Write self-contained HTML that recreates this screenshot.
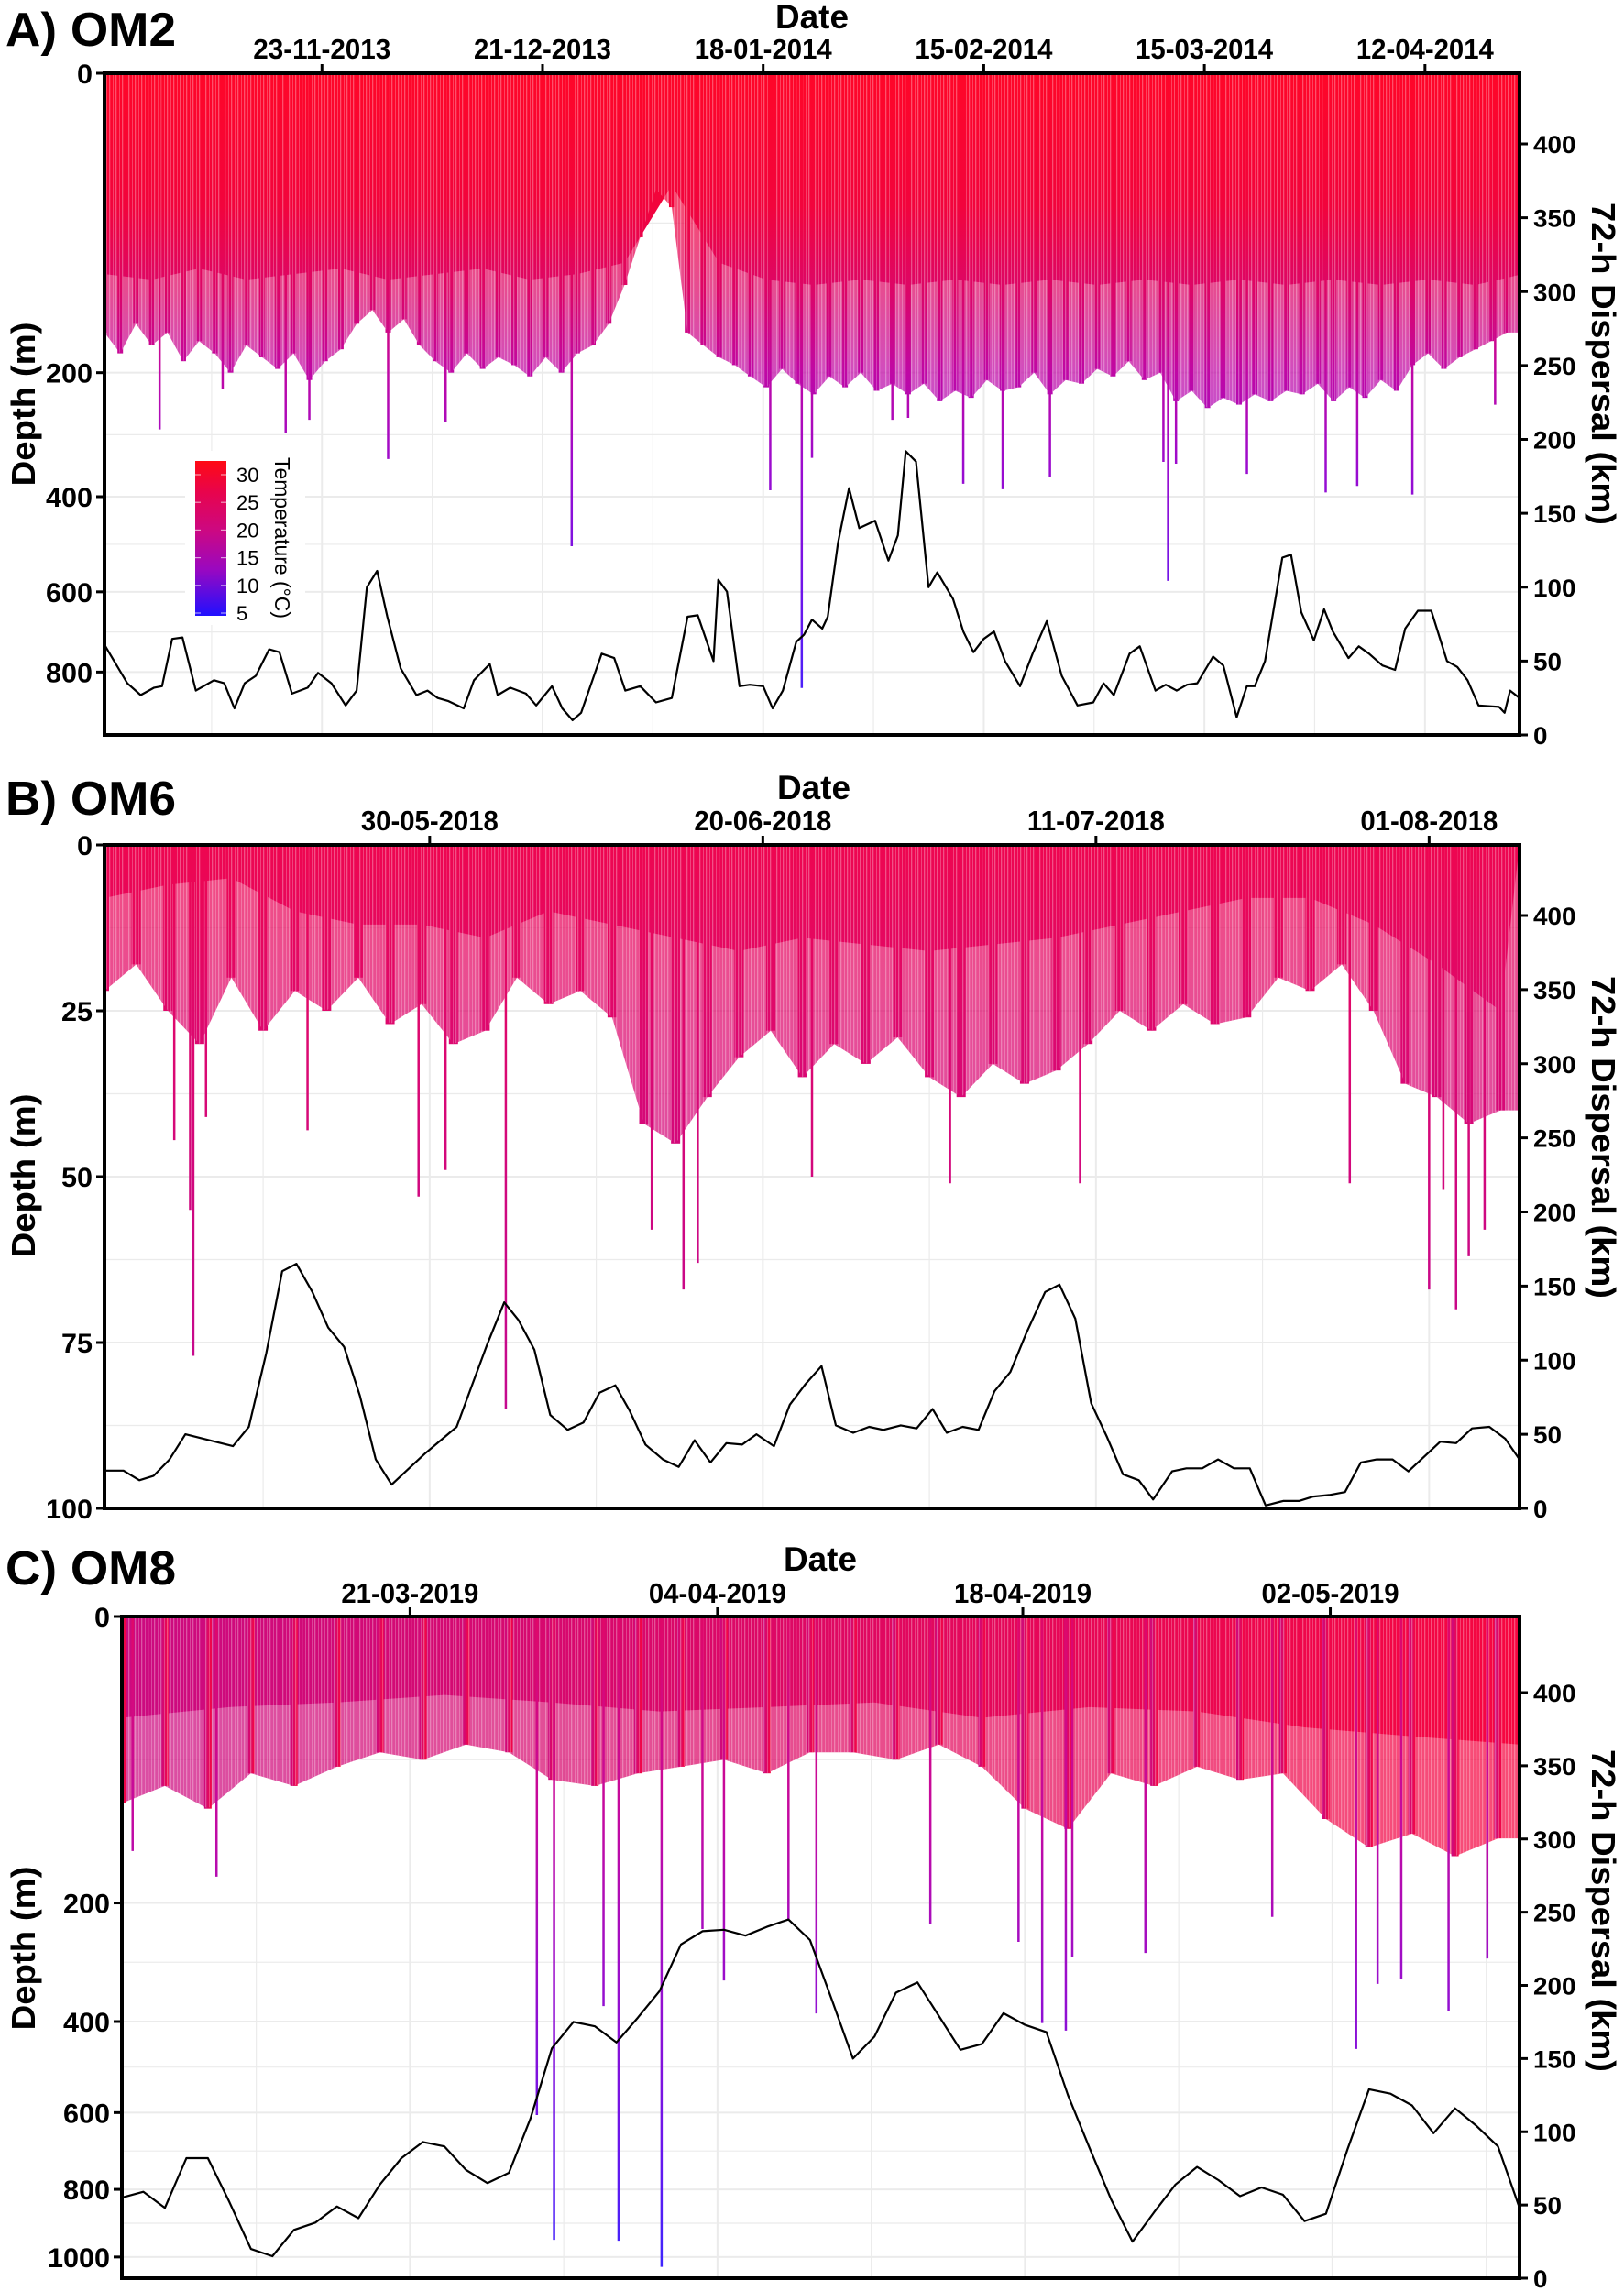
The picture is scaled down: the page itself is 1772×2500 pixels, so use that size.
<!DOCTYPE html>
<html><head><meta charset="utf-8"><title>Dive profiles and dispersal</title>
<style>html,body{margin:0;padding:0;background:#fff}svg{display:block}</style></head>
<body>
<svg id="fig" xmlns="http://www.w3.org/2000/svg" width="1772" height="2500" viewBox="0 0 1772 2500">
<defs>
<linearGradient id="gA" gradientUnits="userSpaceOnUse" x1="0" y1="80" x2="0" y2="802">
<stop offset="0" stop-color="#ff0628"/><stop offset="0.2" stop-color="#f2043c"/><stop offset="0.33" stop-color="#dc0668"/><stop offset="0.45" stop-color="#c008a4"/><stop offset="0.6" stop-color="#9a0cd0"/><stop offset="0.8" stop-color="#6a16ec"/><stop offset="1" stop-color="#3a26ff"/></linearGradient>
<linearGradient id="gB" gradientUnits="userSpaceOnUse" x1="0" y1="922" x2="0" y2="1646">
<stop offset="0" stop-color="#ee0650"/><stop offset="0.3" stop-color="#dc0870"/><stop offset="0.6" stop-color="#cc0884"/><stop offset="1" stop-color="#c00a96"/></linearGradient>
<linearGradient id="gCh" x1="0" y1="0" x2="1" y2="0">
<stop offset="0" stop-color="#cc0a80"/><stop offset="0.45" stop-color="#dc0866"/><stop offset="1" stop-color="#f60640"/></linearGradient>
<linearGradient id="gCv" gradientUnits="userSpaceOnUse" x1="0" y1="1764" x2="0" y2="2486">
<stop offset="0" stop-color="#e00868"/><stop offset="0.3" stop-color="#c40aa0"/><stop offset="0.55" stop-color="#9a0ecc"/><stop offset="0.8" stop-color="#6a16ec"/><stop offset="1" stop-color="#3a26ff"/></linearGradient>
<linearGradient id="gLeg" x1="0" y1="0" x2="0" y2="1">
<stop offset="0" stop-color="#ff0a14"/><stop offset="0.2" stop-color="#e8044c"/><stop offset="0.45" stop-color="#cc0882"/><stop offset="0.7" stop-color="#9a08c0"/><stop offset="1" stop-color="#2010ff"/></linearGradient>
<pattern id="stripes" patternUnits="userSpaceOnUse" width="7" height="40">
<rect x="0" y="0" width="1.3" height="40" fill="#fff"/><rect x="4" y="0" width="0.8" height="40" fill="#fff"/></pattern>
<clipPath id="cA"><rect x="114" y="80" width="1544" height="722"/></clipPath>
<clipPath id="cB"><rect x="114" y="922" width="1544" height="724"/></clipPath>
<clipPath id="cC"><rect x="133" y="1764" width="1525" height="722"/></clipPath>
</defs>
</svg>
<script>
// ---------- Panel A (OM2) data ----------
const A_dispDays=[0,2.9,4.6,6.3,7.3,8.6,9.9,11.6,13.9,15.2,16.5,17.8,19.2,20.9,22.2,23.8,25.8,27.1,28.8,30.6,32.0,33.3,34.6,35.9,37.6,39.6,41.0,42.3,43.6,45.6,46.9,48.9,49.9,51.5,53.5,54.8,56.8,58.1,59.4,60.5,63.1,64.7,66.1,68.0,70.0,72.0,74.0,75.3,77.3,77.9,79.0,80.6,81.9,83.6,84.8,86.1,87.8,88.8,89.8,91.1,91.8,93.1,94.5,95.8,97.8,99.5,100.7,101.7,103.0,104.6,105.7,107.7,109.0,110.3,111.6,112.9,114.3,116.2,117.8,119.6,121.5,123.5,125.5,126.8,128.1,130.1,131.4,133.4,134.7,136.1,137.4,138.7,140.7,142.0,143.7,145.0,146.0,147.3,149.5,150.6,151.9,153.5,154.8,155.9,157.9,159.2,160.5,162.2,163.8,165.1,166.7,168.4,170.4,171.7,173.0,174.4,177.0,177.7,178.4,179.6];
const A_dispKm=[61,35,27,32,33,65,66,30,37,35,18,35,40,58,56,28,32,42,35,20,30,100,111,80,45,27,30,25,23,18,37,48,27,32,28,20,33,18,10,15,55,52,30,33,22,25,80,81,50,105,97,33,34,33,18,30,63,68,78,72,80,130,167,140,145,118,135,192,185,100,110,92,70,56,65,70,50,33,55,77,40,20,22,35,27,55,60,30,34,30,34,35,53,47,12,33,33,50,120,122,83,64,85,70,52,60,55,47,44,72,84,84,50,46,37,20,19,15,30,25];
const A_hairDays=[0,2,4,6,8,10,12,14,16,18,20,22,24,26,28,30,32,34,36,38,40,42,44,46,48,50,52,54,56,58,60,62,64,66,68,70,72,74,76,78,80,82,84,86,88,90,92,94,96,98,100,102,104,106,108,110,112,114,116,118,120,122,124,126,128,130,132,134,136,138,140,142,144,146,148,150,152,154,156,158,160,162,164,166,168,170,172,174,176,178];
const A_hairDepth=[150,175,140,165,150,185,160,175,200,165,180,195,175,210,185,170,140,125,150,135,165,185,200,175,195,180,190,205,180,200,175,165,140,100,60,30,40,150,165,180,190,205,220,195,215,230,205,220,200,225,215,230,215,240,225,235,210,225,220,200,230,210,215,195,205,185,210,200,240,225,250,235,245,230,240,225,230,215,240,220,235,210,225,190,175,195,180,170,160,150];
const A_solidDays=[0,6,12,18,24,30,36,42,48,54,60,66,72,78,84,90,96,102,108,114,120,126,132,138,144,150,156,162,168,174,180];
const A_solidDepth=[90,95,85,95,90,85,95,90,85,95,90,80,28,80,95,100,95,100,95,100,95,100,95,100,95,100,95,100,95,100,90];
const A_spikeDays=[7,15,23,26,36,43.3,59.3,84.5,88.5,89.8,100,102,109,114,120,134.4,135,136,145,155,159,166,176.5];
const A_spikeDepth=[283,223,289,268,332,272,499,388,843,330,268,265,376,386,364,337,575,340,358,392,380,396,245];
const A_dateTicks=[27.6,55.6,83.6,111.6,139.6,167.6];
const A_dateLabels=["23-11-2013","21-12-2013","18-01-2014","15-02-2014","15-03-2014","12-04-2014"];
const A_depthTicks=[0,200,400,600,800];
// ---------- Panel B (OM6) data ----------
const B_dispDays=[0,1.2,2.2,3.1,4.1,5.1,6.6,8.1,9.1,10.2,11.2,12.1,13.1,14.1,15.1,16.1,17.1,18.1,19.2,20.2,21.2,22.2,23.2,24.1,25.2,26.1,27.1,28.1,29.2,30.2,31.2,32.2,33.1,34.1,35.2,36.2,37.2,38.2,39.2,40.2,41.1,42.2,43.2,44.2,45.2,46.1,47.2,48.2,49.1,50.2,51.2,52.2,53.1,54.1,55.1,56.1,57.1,58.1,59.3,60.2,61.2,62.2,63.2,64.2,65.2,66.1,67.3,68.2,69.2,70.2,71.2,72.2,73.2,74.3,75.3,76.2,77.2,78.2,79.2,80.2,81.2,82.2,83.2,84.2,85.2,86.2,87.3,88.3,89.2];
const B_dispKm=[25.5,25.5,19,22,33,50,46,42,55,105,160,165,146,122,109,76,33,16,27,37,46,55,84,110,139,127,107,63,53,58,78,83,66,43,33,28,46,31,44,43,50,42,70,84,96,56,51,55,53,56,54,67,51,55,53,79,92,118,146,151,128,71,48,23,19,6,25,27,27,33,27,27,2,5,5,8,9,11,31,33,33,25,35,45,44,54,55,47,33];
const B_hairDays=[0,2,4,6,8,10,12,14,16,18,20,22,24,26,28,30,32,34,36,38,40,42,44,46,48,50,52,54,56,58,60,62,64,66,68,70,72,74,76,78,80,82,84,86,88];
const B_hairDepth=[22,18,25,30,20,28,22,25,20,27,24,30,28,20,24,22,26,42,45,38,32,28,35,30,33,29,35,38,33,36,34,30,25,28,24,27,26,20,22,18,25,36,38,42,40];
const B_solidDays=[0,4,8,12,16,20,24,28,32,36,40,44,48,52,56,60,64,68,72,76,80,84,88];
const B_solidDepth=[8,6,5,10,12,12,14,10,12,14,16,14,15,16,15,14,12,10,8,8,12,18,25];
const B_spikeDays=[4.4,5.4,5.6,6.4,12.8,19.8,21.5,25.3,34.5,36.5,37.4,44.6,53.3,61.5,78.5,83.5,84.4,85.2,86,87];
const B_spikeDepth=[44.5,55,77,41,43,53,49,85,58,67,63,50,51,51,51,67,52,70,62,58];
const B_dateTicks=[20.5,41.5,62.5,83.5];
const B_dateLabels=["30-05-2018","20-06-2018","11-07-2018","01-08-2018"];
const B_depthTicks=[0,25,50,75,100];
// ---------- Panel C (OM8) data ----------
const C_dispDays=[0,1,2,3,4,5,6,7,8,9,10,11,12,13,14,15,16,17,18,19,20,21,22,23,24,25,26,27,28,29,30,31,32,33,34,35,36,37,38,39,40,41,42,43,44,45,46,47,48,49,50,51,52,53,54,55,56,57,58,59,60,61,62,63,64,65];
const C_dispKm=[55,59,48,82,82,52,20,15,33,38,49,41,64,82,93,90,74,65,72,109,157,175,172,161,178,196,228,237,238,234,240,245,231,191,150,165,195,202,179,156,160,181,173,168,125,89,54,25,45,64,76,67,56,62,57,39,44,88,129,126,118,99,116,104,90,48];
const C_hairDays=[0,2,4,6,8,10,12,14,16,18,20,22,24,26,28,30,32,34,36,38,40,42,44,46,48,50,52,54,56,58,60,62,64];
const C_hairDepth=[85,70,90,60,70,55,45,50,40,45,65,70,60,55,50,60,45,45,50,40,55,90,110,60,70,55,65,60,100,130,115,140,120];
const C_solidDays=[0,5,10,15,20,25,30,35,40,45,50,55,60,65];
const C_solidDepth=[25,20,18,15,18,22,20,18,25,20,22,30,35,40];
const C_spikeDays=[0.5,4.4,19.3,20.1,22.4,23.1,25.1,27,28,31,32.3,37.6,41.7,42.8,43.9,44.2,47.6,53.5,57.4,58.4,59.5,61.7,63.5];
const C_spikeDepth=[134,165,606,947,370,950,1031,238,323,223,384,230,258,403,418,282,276,220,456,329,320,379,285];
const C_dateTicks=[13.4,27.7,41.9,56.2];
const C_dateLabels=["21-03-2019","04-04-2019","18-04-2019","02-05-2019"];
const C_depthTicks=[0,200,400,600,800,1000];
const kmTicks=[0,50,100,150,200,250,300,350,400];
const legendTemps=[30,25,20,15,10,5];

const NS="http://www.w3.org/2000/svg";
const svg=document.getElementById('fig');
const NARROW='"Liberation Sans Narrow","Liberation Sans",sans-serif';
function mk(tag,attrs,parent){const e=document.createElementNS(NS,tag);for(const k in attrs)e.setAttribute(k,attrs[k]);(parent||svg).appendChild(e);return e;}

const panels=[
 {id:'a',title:'A) OM2',L:114,R:1658,T:80,B:802,xMax:179.6,sqrt:true,k:23.1,kmS:1.6125,
  disp:[A_dispDays,A_dispKm],hair:[A_hairDays,A_hairDepth],solid:[A_solidDays,A_solidDepth],spike:[A_spikeDays,A_spikeDepth],
  ticks:A_dateTicks,labels:A_dateLabels,dTicks:A_depthTicks,fill:'url(#gA)',spikeFill:'url(#gA)',clip:'url(#cA)',
  titleY:50,dateY:31,dateX:886,tickY:64,depthMid:441,dispMid:397,barW:6},
 {id:'b',title:'B) OM6',L:114,R:1658,T:922,B:1646,xMax:89.2,sqrt:false,k:7.24,kmS:1.6175,
  disp:[B_dispDays,B_dispKm],hair:[B_hairDays,B_hairDepth],solid:[B_solidDays,B_solidDepth],spike:[B_spikeDays,B_spikeDepth],
  ticks:B_dateTicks,labels:B_dateLabels,dTicks:B_depthTicks,fill:'url(#gB)',spikeFill:'url(#gB)',clip:'url(#cB)',
  titleY:889,dateY:872,dateX:888,tickY:906,depthMid:1283,dispMid:1241,barW:10},
 {id:'c',title:'C) OM8',L:133,R:1658,T:1764,B:2486,xMax:65,sqrt:true,k:22.1,kmS:1.5975,
  disp:[C_dispDays,C_dispKm],hair:[C_hairDays,C_hairDepth],solid:[C_solidDays,C_solidDepth],spike:[C_spikeDays,C_spikeDepth],
  ticks:C_dateTicks,labels:C_dateLabels,dTicks:C_depthTicks,fill:'url(#gCh)',spikeFill:'url(#gCv)',clip:'url(#cC)',
  titleY:1729,dateY:1714,dateX:895,tickY:1749,depthMid:2126,dispMid:2085,barW:8}
];

panels.forEach(p=>{
 const xS=d=>p.L+(p.R-p.L)*d/p.xMax;
 const tr=d=>p.sqrt?Math.sqrt(d):d;
 const yD=d=>p.T+p.k*tr(d);
 const yK=v=>p.B-v*p.kmS;
 const g=mk('g',{});
 
 
 const grid=mk('g',{stroke:'#ebebeb',fill:'none'},g);
 
 
 const step=p.ticks[1]-p.ticks[0];
 const vx=[];for(let t=p.ticks[0]-step/2;t<p.xMax;t+=step/2){if(t>0)vx.push(t);}
 vx.forEach(t=>{const l=mk('line',{x1:xS(t),x2:xS(t),y1:p.T,y2:p.B,'stroke-width':(Math.abs((t-p.ticks[0])/step-Math.round((t-p.ticks[0])/step))<0.01)?2:1.2},grid);
  
  });
 const tv=p.dTicks.map(tr);
 const hv=[];for(let i=0;i<tv.length;i++){hv.push([tv[i],2]);if(i<tv.length-1)hv.push([(tv[i]+tv[i+1])/2,1.2]);}
 const last=tv[tv.length-1],dt=tv[1]-tv[0];if(p.T+p.k*(last+dt/2)<p.B)hv.push([last+dt/2,1.2]);
 hv.forEach(h=>{const y=p.T+p.k*h[0];const l=mk('line',{x1:p.L,x2:p.R,y1:y,y2:y,'stroke-width':h[1]},grid);
  
  });
 const dv=mk('g',{'clip-path':p.clip},g);
 
 
 const [hd,hv2]=p.hair;
 let pts=xS(0)+','+p.T+' ';hd.forEach((d,i)=>{pts+=xS(d)+','+yD(hv2[i])+' ';});pts+=xS(p.xMax)+','+yD(hv2[hv2.length-1])+' '+xS(p.xMax)+','+p.T;
 const hp=mk('polygon',{points:pts,fill:p.fill,opacity:0.72},dv);
 
 
 const [sd,sv]=p.solid;
 let sp=xS(0)+','+p.T+' ';sd.forEach((d,i)=>{sp+=xS(d)+','+yD(sv[i])+' ';});sp+=xS(p.xMax)+','+p.T;
 const so=mk('polygon',{points:sp,fill:p.fill},dv);
 
 
 hd.forEach((d,i)=>{const r=mk('rect',{x:xS(d)-p.barW/2,y:p.T,width:p.barW,height:yD(hv2[i])-p.T,fill:p.fill},dv);
  
  });
 const tex=mk('polygon',{points:pts,fill:'url(#stripes)',opacity:0.3},dv);
 
 
 const [kd,kv]=p.spike;
 kd.forEach((d,i)=>{const l=mk('line',{x1:xS(d),x2:xS(d),y1:p.T,y2:yD(kv[i]),stroke:p.spikeFill,'stroke-width':2.5},dv);
  
  });
 const [dd,dk]=p.disp;const n=Math.min(dd.length,dk.length);
 let lp='';for(let i=0;i<n;i++)lp+=xS(dd[i]).toFixed(1)+','+yK(dk[i]).toFixed(1)+' ';
 const pl=mk('polyline',{points:lp,fill:'none',stroke:'#000','stroke-width':2.2,'stroke-linejoin':'round'},g);
 
 
 const fr=mk('rect',{x:p.L,y:p.T,width:p.R-p.L,height:p.B-p.T,fill:'none',stroke:'#000','stroke-width':4},g);
 
 
 p.ticks.forEach((t,i)=>{const x=xS(t);
  const tk=mk('line',{x1:x,x2:x,y1:p.T-10,y2:p.T,stroke:'#000','stroke-width':3},g);
  
  
  const tx=mk('text',{x:x,y:p.tickY,'text-anchor':'middle','font-family':NARROW,'font-weight':'bold','font-size':31,textLength:150,lengthAdjust:'spacingAndGlyphs'},g);
  tx.textContent=p.labels[i];
  
  });
 p.dTicks.forEach(d=>{const y=yD(d);
  const tk=mk('line',{x1:p.L-9,x2:p.L,y1:y,y2:y,stroke:'#000','stroke-width':3},g);
  
  
  const s=String(d);
  const tx=mk('text',{x:p.L-13,y:y+11,'text-anchor':'end','font-family':NARROW,'font-weight':'bold','font-size':30,textLength:s.length*17,lengthAdjust:'spacingAndGlyphs'},g);
  tx.textContent=s;
  
  });
 kmTicks.forEach(v=>{const y=yK(v);
  const tk=mk('line',{x1:p.R,x2:p.R+9,y1:y,y2:y,stroke:'#000','stroke-width':3},g);
  
  
  const s=String(v);
  const tx=mk('text',{x:p.R+15,y:y+10,'font-family':'"Liberation Sans",sans-serif','font-weight':'bold','font-size':27,textLength:s.length*15.5,lengthAdjust:'spacingAndGlyphs'},g);
  tx.textContent=s;
  
  });
 const tt=mk('text',{x:6,y:p.titleY,'font-family':NARROW,'font-weight':'bold','font-size':52,textLength:186,lengthAdjust:'spacingAndGlyphs'},g);
 tt.textContent=p.title;
 
 
 const dtl=mk('text',{x:p.dateX,y:p.dateY,'text-anchor':'middle','font-family':NARROW,'font-weight':'bold','font-size':37,textLength:80,lengthAdjust:'spacingAndGlyphs'},g);
 dtl.textContent='Date';
 
 
 const yl=mk('text',{x:0,y:0,transform:'translate(38,'+p.depthMid+') rotate(-90)','text-anchor':'middle','font-family':'"Liberation Sans",sans-serif','font-weight':'bold','font-size':36,textLength:179,lengthAdjust:'spacingAndGlyphs'},g);
 yl.textContent='Depth (m)';
 
 
 const yr=mk('text',{x:0,y:0,transform:'translate(1737,'+p.dispMid+') rotate(90)','text-anchor':'middle','font-family':'"Liberation Sans",sans-serif','font-weight':'bold','font-size':36,textLength:352,lengthAdjust:'spacingAndGlyphs'},g);
 yr.textContent='72-h Dispersal (km)';
 
 
});

const lg=mk('g',{});


const lbg=mk('rect',{x:202,y:492,width:131,height:190,fill:'#fff'},lg);


const bar=mk('rect',{x:213,y:503,width:34,height:169,fill:'url(#gLeg)'},lg);


legendTemps.forEach(t=>{const y=518+(30-t)*(669-518)/25;
 const a=mk('line',{x1:213,x2:219,y1:y,y2:y,stroke:'#fff','stroke-opacity':0.6,'stroke-width':1.2},lg);
 
 
 const b=mk('line',{x1:241,x2:247,y1:y,y2:y,stroke:'#fff','stroke-opacity':0.6,'stroke-width':1.2},lg);
 
 
 const tx=mk('text',{x:258,y:y+8,'font-family':'"Liberation Sans",sans-serif','font-size':22},lg);
 tx.textContent=String(t);
 
 });
const lt=mk('text',{x:0,y:0,transform:'translate(300,587) rotate(90)','text-anchor':'middle','font-family':'"Liberation Sans",sans-serif','font-size':23,textLength:176,lengthAdjust:'spacingAndGlyphs'},lg);
lt.textContent='Temperature (°C)';


</script>
</body></html>
